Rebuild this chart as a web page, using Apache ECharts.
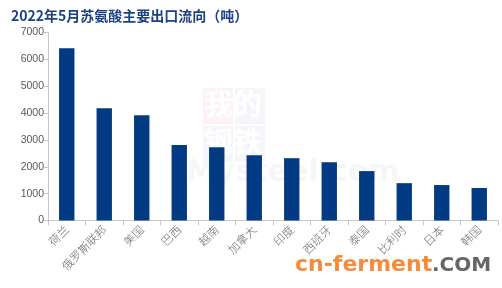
<!DOCTYPE html>
<html><head><meta charset="utf-8">
<script src="https://cdn.jsdelivr.net/npm/echarts@6/dist/echarts.min.js"></script>
<style>html,body{margin:0;padding:0;background:#fff}#c{width:502px;height:288px}</style>
</head><body><div id="c"></div>
<script>
const categories = ['荷兰','俄罗斯联邦','美国','巴西','越南','加拿大','印度','西班牙','泰国','比利时','日本','韩国'];
const values = [6410,4180,3920,2810,2730,2430,2320,2170,1840,1390,1320,1210];
const yTicks = [0,1000,2000,3000,4000,5000,6000,7000];
const titleText = '2022年5月苏氨酸主要出口流向（吨）';

const chart = echarts.init(document.getElementById('c'), null, {renderer:'canvas'});
chart.setOption({
  backgroundColor:'#ffffff',
  animation:false,
  title:{text:titleText,left:6,top:4,textStyle:{fontSize:14,fontWeight:'bold',color:'#1d4283',fontFamily:'Noto Sans CJK SC'}},
  graphic:[
    {type:'rect',left:203,top:88,z:0,shape:{width:30,height:36},style:{fill:'#fdf3f3'}},
    {type:'rect',left:235,top:88,z:0,shape:{width:30,height:36},style:{fill:'#f4f6fb'}},
    {type:'rect',left:203,top:126,z:0,shape:{width:30,height:36},style:{fill:'#f4f6fb'}},
    {type:'rect',left:235,top:126,z:0,shape:{width:30,height:36},style:{fill:'#f4f6fb'}},
    {type:'text',left:204,top:89,z:1,style:{text:'我的',font:'bold 29px "Noto Sans CJK SC"',fill:'#ffffff'}},
    {type:'text',left:204,top:127,z:1,style:{text:'钢铁',font:'bold 29px "Noto Sans CJK SC"',fill:'#ffffff'}},
    {type:'text',left:186,top:158,z:1,style:{text:'Mysteel.com',font:'bold 30px "DejaVu Sans"',fill:'#f6f6f6'}},
    {type:'text',left:295,top:254,z:100,style:{text:'cn-ferment',font:'bold 22px "DejaVu Sans"',fill:'#f68b3d'}},
    {type:'text',left:432,top:256,z:100,style:{text:'.COM',font:'bold 20px "DejaVu Sans"',fill:'#666666'}}
  ],
  grid:{left:48,right:4,top:32.5,bottom:67.5,containLabel:false},
  xAxis:{type:'category',data:categories,
    axisLine:{lineStyle:{color:'#c8c8c8'}},
    axisTick:{show:true,length:5,lineStyle:{color:'#c8c8c8'}},
    axisLabel:{rotate:45,fontSize:11.5,color:'#6a6a6a',margin:7,fontFamily:'Noto Sans CJK SC',fontWeight:300,interval:0}},
  yAxis:{type:'value',min:yTicks[0],max:yTicks[yTicks.length-1],interval:1000,
    splitLine:{show:false},
    axisLine:{show:true,lineStyle:{color:'#c8c8c8'}},
    axisTick:{show:true,length:4,lineStyle:{color:'#c8c8c8'}},
    axisLabel:{fontSize:10.5,color:'#595959',margin:4,fontFamily:'Liberation Sans',formatter:v=>String(v)}},
  series:[{type:'bar',data:values,barWidth:'41%',itemStyle:{color:'#023a84'},z:5}]
});
</script></body></html>
